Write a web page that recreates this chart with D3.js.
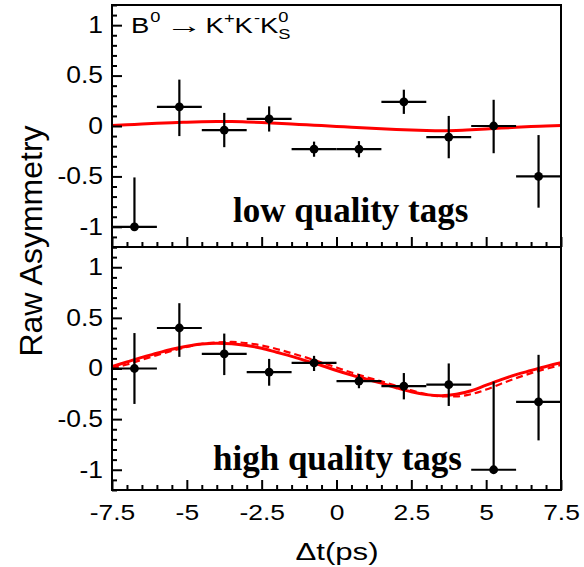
<!DOCTYPE html>
<html>
<head>
<meta charset="utf-8">
<script src="https://cdn.jsdelivr.net/npm/d3@7/dist/d3.min.js"></script>
<style>
  body { margin: 0; background: #fff; }
  svg { display: block; }
</style>
</head>
<body>
<svg id="chart" width="584" height="567"></svg>
<script>
// Δt bins (ps): centres, half width
const binCenters = [-6.75, -5.25, -3.75, -2.25, -0.75, 0.75, 2.25, 3.75, 5.25, 6.75];
const binHalfWidth = 0.75;

// Low quality tags: raw asymmetry with upper / lower errors
const lowValues = [-1.00, 0.19, -0.04, 0.07, -0.23, -0.23, 0.24, -0.11, 0.00, -0.50];
const lowErrHi  = [0.49, 0.27, 0.17, 0.125, 0.075, 0.08, 0.12, 0.21, 0.26, 0.41];
const lowErrLo  = [0.00, 0.29, 0.17, 0.125, 0.075, 0.08, 0.12, 0.21, 0.27, 0.31];

// High quality tags
const highValues = [0.00, 0.40, 0.145, -0.035, 0.055, -0.125, -0.175, -0.16, -1.00, -0.33];
const highErrHi  = [0.35, 0.245, 0.20, 0.13, 0.07, 0.07, 0.13, 0.21, 0.87, 0.465];
const highErrLo  = [0.35, 0.285, 0.21, 0.135, 0.08, 0.07, 0.13, 0.21, 0.00, 0.38];

// Fit curves sampled along Δt
const curveT = [-7.5, -7, -6.5, -6, -5.5, -5, -4.5, -4, -3.5, -3, -2.5, -2, -1.5, -1, -0.5,
                0, 0.5, 1, 1.5, 2, 2.5, 3, 3.5, 4, 4.5, 5, 5.5, 6, 6.5, 7, 7.5];
const lowFit = [0.005, 0.012, 0.02, 0.027, 0.033, 0.038, 0.042, 0.044, 0.044, 0.04, 0.035,
                0.028, 0.02, 0.012, 0.004, -0.004, -0.012, -0.02, -0.027, -0.034, -0.04,
                -0.044, -0.046, -0.044, -0.038, -0.03, -0.021, -0.013, -0.006, 0.0, 0.006];
const highFit = [0.02, 0.065, 0.11, 0.15, 0.19, 0.22, 0.242, 0.25, 0.245, 0.228, 0.2,
                 0.16, 0.12, 0.075, 0.03, -0.02, -0.065, -0.105, -0.145, -0.19, -0.23,
                 -0.258, -0.268, -0.255, -0.22, -0.165, -0.11, -0.06, -0.02, 0.02, 0.056];
const highFitAlt = [0.002, 0.04, 0.087, 0.132, 0.174, 0.212, 0.243, 0.258, 0.262, 0.25, 0.228,
                    0.193, 0.151, 0.107, 0.06, 0.01, -0.04, -0.085, -0.127, -0.171, -0.216,
                    -0.253, -0.275, -0.276, -0.253, -0.208, -0.15, -0.095, -0.046, -0.004, 0.036];

// Axis ticks and labels
const xMajorTicks = [-7.5, -5, -2.5, 0, 2.5, 5, 7.5];
const xMinorTicks = [-7, -6.5, -6, -5.5, -4.5, -4, -3.5, -3, -2, -1.5, -1, -0.5,
                     0.5, 1, 1.5, 2, 3, 3.5, 4, 4.5, 5.5, 6, 6.5, 7];
const yMajorTicks = [-1, -0.5, 0, 0.5, 1];
const yMinorTicks = [-1.2, -1.1, -0.9, -0.8, -0.7, -0.6, -0.4, -0.3, -0.2, -0.1,
                     0.1, 0.2, 0.3, 0.4, 0.6, 0.7, 0.8, 0.9, 1.1, 1.2];
const yDomain = [-1.2, 1.2];
const xDomain = [-7.5, 7.5];
const panelLabels = ["low quality tags", "high quality tags"];
const xTitle = "\u0394t(ps)";
const yTitle = "Raw Asymmetry";

const SANS = "'Liberation Sans', Arial, Helvetica, sans-serif";
const SERIF = "'Liberation Serif', 'Times New Roman', serif";
const Y_STRETCH = 1.15;   // horizontal widening of y tick labels
const X_STRETCH = 1.2;    // horizontal widening of x tick labels

const svg = d3.select("#chart");
const x = d3.scaleLinear().domain(xDomain).range([112, 561]);

const panels = [
  { top: 5, bottom: 247, values: lowValues, hi: lowErrHi, lo: lowErrLo,
    fits: [{ data: lowFit, dash: null, width: 3 }],
    label: panelLabels[0], labelX: 233, labelY: 222, xLabels: false },
  { top: 247, bottom: 490, values: highValues, hi: highErrHi, lo: highErrLo,
    fits: [{ data: highFitAlt, dash: "7,4", width: 2.2 }, { data: highFit, dash: null, width: 3 }],
    label: panelLabels[1], labelX: 213, labelY: 470, xLabels: true }
];

panels.forEach((p, i) => {
  const y = d3.scaleLinear().domain(yDomain).range([p.bottom, p.top]);
  const clipId = "clip" + i;
  svg.append("clipPath").attr("id", clipId)
    .append("rect")
    .attr("x", x.range()[0]).attr("y", p.top)
    .attr("width", x.range()[1] - x.range()[0]).attr("height", p.bottom - p.top);

  const g = svg.append("g");
  const plot = g.append("g").attr("clip-path", `url(#${clipId})`);

  // fit curves
  const line = d3.line()
    .x((d, k) => x(curveT[k]))
    .y(d => y(d))
    .curve(d3.curveMonotoneX);
  p.fits.forEach(f => {
    plot.append("path")
      .attr("d", line(f.data))
      .attr("fill", "none")
      .attr("stroke", "#ff0000")
      .attr("stroke-width", f.width)
      .attr("stroke-dasharray", f.dash);
  });

  // data points with bin-width and error bars
  const pts = plot.selectAll("g.pt")
    .data(binCenters.map((c, k) => ({ c, v: p.values[k], hi: p.hi[k], lo: p.lo[k] })))
    .join("g").attr("class", "pt");
  pts.append("line")
    .attr("x1", d => x(d.c - binHalfWidth)).attr("x2", d => x(d.c + binHalfWidth))
    .attr("y1", d => y(d.v)).attr("y2", d => y(d.v))
    .attr("stroke", "#000").attr("stroke-width", 2.2);
  pts.append("line")
    .attr("x1", d => x(d.c)).attr("x2", d => x(d.c))
    .attr("y1", d => y(d.v + d.hi)).attr("y2", d => y(d.v - d.lo))
    .attr("stroke", "#000").attr("stroke-width", 2.2);
  pts.append("circle")
    .attr("cx", d => x(d.c)).attr("cy", d => y(d.v)).attr("r", 4.4)
    .attr("fill", "#000");

  // y axis: minor and major ticks pointing inward
  g.append("g").attr("transform", `translate(${x.range()[0]},0)`)
    .call(d3.axisLeft(y).tickValues(yMinorTicks).tickSize(-5).tickFormat(""))
    .call(a => a.select(".domain").remove())
    .call(a => a.selectAll("line").attr("stroke", "#000").attr("stroke-width", 2));
  const yAx = g.append("g").attr("transform", `translate(${x.range()[0]},0)`)
    .call(d3.axisLeft(y).tickValues(yMajorTicks).tickSize(-10).tickPadding(9 / Y_STRETCH)
      .tickFormat(d => String(d)))
    .call(a => a.select(".domain").remove())
    .call(a => a.selectAll("line").attr("stroke", "#000").attr("stroke-width", 2));
  yAx.selectAll("text")
    .attr("font-family", SANS).attr("font-size", 23).attr("fill", "#000")
    .attr("transform", `scale(${Y_STRETCH},1)`);

  // x axis along the bottom of each panel
  g.append("g").attr("transform", `translate(0,${p.bottom})`)
    .call(d3.axisBottom(x).tickValues(xMinorTicks).tickSize(-5).tickFormat(""))
    .call(a => a.select(".domain").remove())
    .call(a => a.selectAll("line").attr("stroke", "#000").attr("stroke-width", 2));
  const xAx = g.append("g").attr("transform", `translate(0,${p.bottom})`)
    .call(d3.axisBottom(x).tickValues(xMajorTicks).tickSize(-10).tickPadding(14)
      .tickFormat(d => p.xLabels ? String(d) : ""))
    .call(a => a.select(".domain").remove())
    .call(a => a.selectAll("line").attr("stroke", "#000").attr("stroke-width", 2));
  xAx.selectAll("text")
    .attr("font-family", SANS).attr("font-size", 22).attr("fill", "#000")
    .attr("transform", `scale(${X_STRETCH},1)`);

  // frame
  g.append("rect")
    .attr("x", x.range()[0]).attr("y", p.top)
    .attr("width", x.range()[1] - x.range()[0]).attr("height", p.bottom - p.top)
    .attr("fill", "none").attr("stroke", "#000").attr("stroke-width", 2);

  // panel label
  g.append("text")
    .attr("x", p.labelX).attr("y", p.labelY)
    .attr("font-family", SERIF).attr("font-weight", "bold").attr("font-size", 35)
    .attr("fill", "#000")
    .text(p.label);
});

// decay channel label: B0 -> K+ K- K0S
(function () {
  const base = 33, fs = 22.5, sfs = 15, sx = 1.22;
  const t = svg.append("g").attr("font-family", SANS).attr("fill", "#000");
  let cx = 131;
  function put(str, dx, dy, size, wide) {
    const s = sx * (wide || 1);
    const el = t.append("text").attr("font-size", size).text(str);
    const w = el.node().getComputedTextLength() * s;
    el.attr("transform", `translate(${cx + dx},${base + dy}) scale(${s},1)`);
    return w;
  }
  cx += put("B", 0, 0, fs);
  cx += put("0", 1, -11, sfs) + 1;
  cx += 5;
  cx += put("\u2192", 0, 0, fs, 1.35);
  cx += 3;
  cx += put("K", 0, 0, fs);
  cx += put("+", 0, -10, sfs);
  cx += put("K", 0, 0, fs);
  cx += put("-", 1, -10, sfs) + 1;
  cx += put("K", 0, 0, fs);
  put("0", 0, -11, sfs);
  put("S", 0, 6, sfs);
})();

// axis titles
svg.append("text")
  .attr("transform", `translate(42,241) rotate(-90)`)
  .attr("text-anchor", "middle")
  .attr("font-family", SANS).attr("font-size", 32).attr("fill", "#000")
  .text(yTitle);
svg.append("text")
  .attr("transform", `translate(337,560) scale(1.3,1)`)
  .attr("text-anchor", "middle")
  .attr("font-family", SANS).attr("font-size", 24).attr("fill", "#000")
  .text(xTitle);
</script>
</body>
</html>
